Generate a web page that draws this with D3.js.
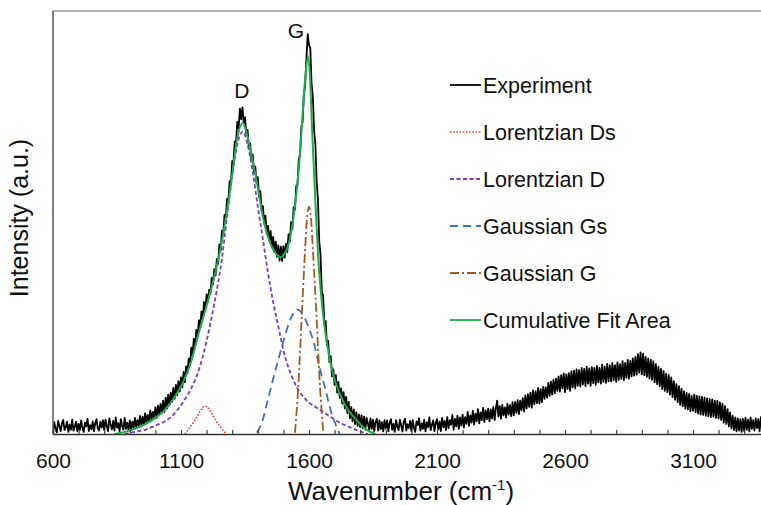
<!DOCTYPE html>
<html>
<head>
<meta charset="utf-8">
<script src="https://cdn.jsdelivr.net/npm/d3@7"></script>
<style>
  body { margin: 0; background: #fff; }
  svg { display: block; font-family: "Liberation Sans", Arial, Helvetica, sans-serif; }
</style>
</head>
<body>
<div id="vis"></div>
<script>
// frame
const FRAME_WIDTH = 761;
const FRAME_HEIGHT = 505;
const MARGINS = {left: 53, right: 0, top: 11, bottom: 71};

// measured spectrum, one value every 5 cm-1 from 600
const expStart = 600;
const expStep = 5;
const expIntensity = [
  0.6, 2.8, 1.2, 0.4, 3.1, 1.9, 0.7, 2.5, 3.3, 0.9, 1.6, 2.9, 0.5, 2.2, 1.0, 3.4, 0.8, 1.7, 2.9, 0.6,
  2.4, 0.9, 3.2, 1.4, 0.5, 2.7, 1.8, 3.6, 0.7, 2.1, 1.1, 3.0, 0.6, 2.6, 3.5, 1.3, 0.8, 2.9, 1.5, 3.3,
  0.9, 3.4, 1.8, 0.7, 3.7, 2.2, 1.1, 3.1, 0.8, 3.9, 1.5, 2.6, 0.6, 3.5, 1.9, 1.0, 3.8, 1.2, 2.7, 0.9,
  3.2, 1.0, 2.9, 1.4, 3.8, 1.6, 3.3, 1.9, 4.3, 2.0, 4.1, 2.3, 4.9, 2.6, 4.5, 3.0, 5.6, 3.2, 5.2, 3.9,
  6.3, 3.8, 6.7, 4.5, 7.1, 5.0, 7.9, 5.2, 8.6, 6.0, 9.3, 6.9, 9.8, 7.6, 10.9, 8.3, 11.6, 9.2, 12.5, 10.0,
  13.4, 11.0, 14.7, 12.2, 16.0, 14.3, 17.8, 16.2, 20.4, 18.6, 22.5, 20.9, 24.6, 23.0, 26.9, 25.1, 29.0, 27.3, 31.2, 29.3,
  33.0, 31.3, 34.1, 33.2, 36.9, 35.4, 39.0, 37.5, 41.4, 40.2, 44.8, 43.3, 48.1, 47.2, 51.8, 51.0, 55.6, 55.1, 59.8, 59.4,
  64.5, 64.1, 69.2, 68.9, 73.8, 72.3, 76.9, 74.4, 77.2, 73.6, 74.9, 70.8, 71.9, 67.6, 68.7, 64.9, 66.1, 61.9, 63.2, 59.3,
  60.7, 56.1, 57.4, 52.6, 53.9, 49.7, 51.6, 47.3, 49.2, 45.6, 48.0, 44.1, 46.6, 43.0, 45.5, 41.9, 44.6, 41.0, 44.3, 40.9,
  44.4, 41.7, 45.0, 43.0, 47.2, 45.4, 50.1, 48.5, 53.6, 53.0, 58.6, 58.8, 65.0, 66.0, 72.5, 73.8, 80.4, 82.4, 89.0, 94.5,
  92.0, 91.2, 82.8, 79.9, 71.6, 68.4, 59.6, 55.4, 45.6, 42.4, 33.6, 32.8, 26.0, 26.7, 21.0, 22.0, 17.0, 18.4, 13.6, 15.3,
  11.6, 13.9, 9.8, 12.3, 8.5, 10.8, 7.2, 9.9, 6.0, 8.8, 4.9, 7.6, 3.7, 6.4, 3.0, 5.8, 2.3, 5.1, 1.9, 4.6,
  1.6, 4.4, 1.4, 4.1, 1.0, 3.8, 2.5, 0.9, 3.7, 1.2, 3.4, 0.7, 2.9, 3.6, 0.8, 3.2, 1.1, 2.8, 0.6, 3.3,
  1.3, 3.2, 0.6, 2.7, 3.5, 1.0, 2.4, 0.5, 3.3, 1.7, 0.9, 3.4, 2.0, 0.6, 2.9, 3.6, 0.8, 2.3, 1.4, 3.1,
  0.7, 3.3, 1.5, 0.5, 3.0, 2.1, 3.7, 0.8, 2.5, 1.2, 3.4, 0.6, 2.8, 1.6, 3.9, 0.9, 2.2, 3.2, 0.7, 2.6,
  3.5, 1.1, 2.9, 0.7, 3.8, 1.6, 3.1, 0.9, 4.0, 1.4, 3.3, 2.2, 4.5, 1.0, 3.6, 1.8, 4.3, 1.2, 3.9, 2.0,
  4.6, 1.5, 4.0, 2.4, 5.2, 1.9, 4.4, 2.7, 5.5, 2.2, 4.8, 3.0, 5.9, 2.5, 5.1, 3.3, 6.2, 2.8, 5.6, 3.5,
  6.0, 3.0, 5.8, 3.7, 6.4, 3.3, 6.1, 7.9, 4.1, 6.6, 3.6, 6.9, 4.4, 6.3, 3.9, 7.2, 4.6, 6.8, 4.2, 7.5,
  4.4, 7.6, 5.0, 8.0, 4.7, 7.9, 5.6, 8.5, 5.3, 9.1, 6.0, 9.4, 6.4, 9.8, 6.2, 10.3, 7.0, 10.1, 7.3, 10.9,
  7.2, 10.6, 7.5, 11.2, 8.3, 11.0, 8.6, 12.1, 9.0, 12.4, 9.3, 12.8, 9.6, 13.1, 10.2, 13.6, 10.0, 13.9, 10.8, 14.3,
  9.9, 14.1, 10.6, 14.4, 10.2, 14.8, 11.0, 15.0, 10.8, 15.3, 11.4, 15.1, 11.2, 15.6, 11.7, 15.4, 11.3, 15.9, 11.9, 15.5,
  11.4, 15.8, 12.0, 15.6, 11.6, 16.1, 12.2, 15.7, 11.9, 16.4, 12.3, 15.9, 12.1, 16.6, 12.5, 16.2, 12.4, 16.8, 12.7, 16.3,
  12.3, 16.9, 12.8, 16.5, 13.0, 17.2, 12.7, 16.8, 13.3, 17.5, 13.1, 17.3, 13.6, 17.9, 13.8, 18.2, 14.0, 18.9, 14.5, 19.3,
  14.1, 19.0, 13.9, 18.2, 13.5, 17.8, 13.1, 17.6, 12.8, 17.2, 12.2, 16.5, 11.8, 15.9, 11.3, 15.4, 10.6, 14.9, 10.2, 14.2,
  9.9, 14.0, 9.3, 13.4, 8.7, 12.5, 8.1, 11.8, 7.5, 11.3, 6.9, 10.7, 6.6, 10.1, 6.0, 9.7, 5.8, 9.5, 5.4, 9.0,
  5.5, 9.3, 5.1, 9.0, 4.8, 8.9, 4.6, 8.8, 4.5, 8.6, 4.3, 8.4, 4.2, 8.3, 4.0, 8.2, 4.1, 7.9, 3.8, 7.8,
  3.7, 7.5, 3.3, 7.2, 2.7, 6.6, 2.4, 5.9, 1.8, 5.1, 1.3, 4.3, 0.9, 3.9, 0.6, 3.7, 0.8, 3.5, 0.5, 3.6,
  0.7, 3.8, 1.0, 3.4, 0.6, 3.9, 1.2, 3.3, 0.8, 3.7, 1.4, 3.5, 0.6, 4.0, 1.1, 3.6
];

// fitted components (wavenumber, intensity)
const dsWave = [1115, 1135, 1155, 1175, 1185, 1195, 1205, 1215, 1235, 1255, 1277];
const dsVal  = [0, 1.6, 3.3, 5.4, 6.3, 6.6, 6.3, 5.4, 3.3, 1.6, 0];

const dWave = [880, 920, 960, 1000, 1040, 1080, 1110, 1140, 1170, 1200, 1230, 1260, 1280, 1300, 1320, 1341,
               1360, 1380, 1400, 1420, 1440, 1460, 1480, 1500, 1540, 1590, 1630, 1670, 1710, 1760, 1800, 1830];
const dVal  = [0, 0.5, 1.0, 2.0, 3.1, 5.2, 7.7, 10.8, 15.2, 22.0, 30.8, 41.5, 51.5, 61.0, 68.5, 71.5,
               68.5, 62.0, 53.8, 46.0, 38.0, 31.2, 25.5, 19.8, 12.6, 8.0, 6.2, 4.6, 3.0, 1.6, 0.6, 0];

const gsWave = [1397, 1420, 1436, 1460, 1487, 1510, 1530, 1555, 1580, 1600, 1616, 1640, 1662, 1685, 1709, 1720];
const gsVal  = [0.3, 3.5, 7.3, 13.0, 19.1, 24.0, 27.5, 29.4, 27.8, 25.0, 22.2, 16.0, 11.1, 5.5, 1.5, 0];

const gWave = [1545, 1558, 1571, 1584, 1592, 1600, 1608, 1616, 1630, 1643, 1656];
const gVal  = [0.3, 11.1, 27.0, 42.8, 51.0, 53.7, 51.0, 42.8, 27.0, 11.1, 0.3];

const fitWave = [840, 880, 920, 960, 1000, 1040, 1080, 1110, 1140, 1170, 1200, 1230, 1260, 1280, 1300, 1320, 1341,
                 1360, 1380, 1400, 1420, 1440, 1460, 1480, 1490, 1500, 1520, 1540, 1560, 1575, 1588, 1596,
                 1604, 1612, 1623, 1635, 1651, 1670, 1694, 1733, 1787, 1830, 1860];
const fitVal  = [0, 0.5, 1.2, 2.3, 3.8, 5.9, 9.2, 12.5, 17.2, 24.0, 30.3, 37.2, 45.6, 52.8, 61.3, 70.0, 73.5,
                 70.2, 64.5, 58.3, 51.3, 46.6, 43.6, 42.1, 41.8, 42.3, 44.8, 51.5, 62.5, 75.5, 86.0, 89.3,
                 84.5, 72.0, 57.5, 42.8, 30.5, 21.5, 14.2, 7.8, 3.2, 0.8, 0];

// axis ticks
const xTickLabels = [600, 1100, 1600, 2100, 2600, 3100];
const xMinorTicks = d3.range(600, 3400, 100);

// legend + peak labels
const seriesNames = ["Experiment", "Lorentzian Ds", "Lorentzian D", "Gaussian Gs", "Gaussian G", "Cumulative Fit Area"];
const peakNames = ["D", "G"];
const peakWave = [1338, 1549];
const peakHeight = [79.4, 93.6];

const styles = [
  {color: "#000000", width: 1.8, dash: null},
  {color: "#ff3b3b", width: 1.6, dash: "1.6,1.6"},
  {color: "#7a3cc0", width: 1.8, dash: "4,2.5"},
  {color: "#3f6ebd", width: 1.8, dash: "8,5"},
  {color: "#a8581f", width: 1.8, dash: "9,3,2,3"},
  {color: "#1cae4a", width: 2,   dash: null}
];

const VIS_WIDTH = FRAME_WIDTH - MARGINS.left - MARGINS.right;
const VIS_HEIGHT = FRAME_HEIGHT - MARGINS.top - MARGINS.bottom;

const FRAME = d3.select("#vis")
  .append("svg")
    .attr("width", FRAME_WIDTH)
    .attr("height", FRAME_HEIGHT);

// 0.256 px per cm-1, axis runs past the right edge of the picture
const X_SCALE = d3.scaleLinear()
  .domain([600, 3400])
  .range([MARGINS.left, MARGINS.left + 2800 * 0.256]);

const Y_SCALE = d3.scaleLinear()
  .domain([0, 100])
  .range([MARGINS.top + VIS_HEIGHT, MARGINS.top]);

FRAME.append("clipPath").attr("id", "plotclip")
  .append("rect")
    .attr("x", MARGINS.left)
    .attr("y", MARGINS.top)
    .attr("width", VIS_WIDTH)
    .attr("height", VIS_HEIGHT);

const plot = FRAME.append("g").attr("clip-path", "url(#plotclip)");

const expData = expIntensity.map((v, i) => [expStart + i * expStep, v]);
const zipSeries = (w, v) => w.map((d, i) => [d, v[i]]);

const lineRaw = d3.line()
  .x(d => X_SCALE(d[0]))
  .y(d => Y_SCALE(d[1]));

const lineSmooth = d3.line()
  .x(d => X_SCALE(d[0]))
  .y(d => Y_SCALE(d[1]))
  .curve(d3.curveMonotoneX);

function drawLine(data, gen, st) {
  plot.append("path")
    .datum(data)
    .attr("fill", "none")
    .attr("stroke", st.color)
    .attr("stroke-width", st.width)
    .attr("stroke-dasharray", st.dash)
    .attr("stroke-linejoin", "round")
    .attr("d", gen);
}

drawLine(expData, lineRaw, styles[0]);
drawLine(zipSeries(dsWave, dsVal), lineSmooth, styles[1]);
drawLine(zipSeries(dWave, dVal), lineSmooth, styles[2]);
drawLine(zipSeries(gsWave, gsVal), lineSmooth, styles[3]);
drawLine(zipSeries(gWave, gVal), lineSmooth, styles[4]);
drawLine(zipSeries(fitWave, fitVal), lineSmooth, styles[5]);

// frame lines
FRAME.append("line")
  .attr("x1", MARGINS.left).attr("x2", FRAME_WIDTH)
  .attr("y1", MARGINS.top).attr("y2", MARGINS.top)
  .attr("stroke", "#9a9a9a").attr("stroke-width", 1.5);
FRAME.append("line")
  .attr("x1", MARGINS.left).attr("x2", MARGINS.left)
  .attr("y1", MARGINS.top).attr("y2", MARGINS.top + VIS_HEIGHT)
  .attr("stroke", "#555").attr("stroke-width", 1.5);

// minor ticks pointing up into the plot
FRAME.append("g")
  .attr("transform", "translate(0," + (MARGINS.top + VIS_HEIGHT) + ")")
  .call(d3.axisBottom(X_SCALE).tickValues(xMinorTicks).tickSize(-4).tickFormat(""))
  .call(g => g.select(".domain").attr("stroke", "#333").attr("stroke-width", 1.6))
  .call(g => g.selectAll(".tick line").attr("stroke", "#444").attr("stroke-width", 1.2));

// labels
FRAME.append("g")
  .attr("transform", "translate(0," + (MARGINS.top + VIS_HEIGHT) + ")")
  .call(d3.axisBottom(X_SCALE).tickValues(xTickLabels).tickSize(0).tickPadding(19).tickFormat(d3.format("d")))
  .call(g => g.select(".domain").remove())
  .selectAll("text")
    .attr("font-size", "21px")
    .attr("font-family", "Liberation Sans, Arial, sans-serif")
    .attr("fill", "#111");

// axis titles
const xt = FRAME.append("text")
  .attr("x", 401)
  .attr("y", 500)
  .attr("text-anchor", "middle")
  .attr("font-size", "26px")
  .attr("fill", "#111");
xt.append("tspan").text("Wavenumber (cm");
xt.append("tspan").attr("dy", -10).attr("font-size", "15px").text("-1");
xt.append("tspan").attr("dy", 10).text(")");

FRAME.append("text")
  .attr("transform", "translate(28,218) rotate(-90)")
  .attr("text-anchor", "middle")
  .attr("font-size", "25px")
  .attr("fill", "#111")
  .text("Intensity (a.u.)");

// peak labels
FRAME.selectAll(".peak")
  .data(peakNames)
  .enter()
  .append("text")
    .attr("class", "peak")
    .attr("x", (d, i) => X_SCALE(peakWave[i]))
    .attr("y", (d, i) => Y_SCALE(peakHeight[i]))
    .attr("text-anchor", "middle")
    .attr("font-size", "21px")
    .attr("fill", "#111")
    .text(d => d);

// legend
const legend = FRAME.append("g").attr("transform", "translate(450,85)");
const items = legend.selectAll("g")
  .data(seriesNames)
  .enter()
  .append("g")
    .attr("transform", (d, i) => "translate(0," + (i * 47) + ")");
items.append("line")
  .attr("x1", 0).attr("x2", 31)
  .attr("y1", 0).attr("y2", 0)
  .attr("stroke", (d, i) => styles[i].color)
  .attr("stroke-width", (d, i) => Math.min(styles[i].width, 1.8))
  .attr("stroke-dasharray", (d, i) => styles[i].dash);
items.append("text")
  .attr("x", 33)
  .attr("y", 0)
  .attr("dy", "0.35em")
  .attr("font-size", "21.5px")
  .attr("fill", "#111")
  .text(d => d);
</script>
</body>
</html>
